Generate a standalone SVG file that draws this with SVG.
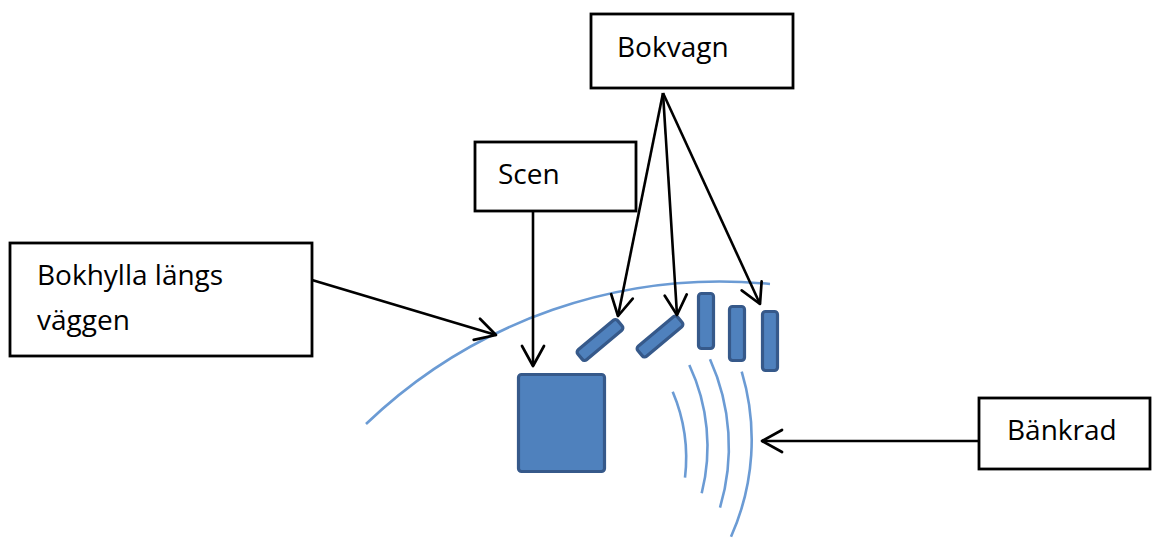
<svg xmlns="http://www.w3.org/2000/svg" width="1153" height="538" viewBox="0 0 1153 538">
<style>
.box{fill:#fff;stroke:#000;stroke-width:2.8}
.lbl{font-family:"Open Sans","Liberation Sans",sans-serif;font-size:28px;fill:#000}
.con{stroke:#000;stroke-width:2.6;fill:none;marker-end:url(#ah)}
.wall{stroke:#6b9bd4;stroke-width:2.6;fill:none}
.obj{fill:#4f81bd;stroke:#36598a;stroke-width:3.2}
</style>
<defs>
<marker id="ah" markerUnits="userSpaceOnUse" viewBox="-23 -13 25 26" markerWidth="25" markerHeight="26" refX="0" refY="0" orient="auto">
<path d="M-20,-11 L0,0 L-20,11" fill="none" stroke="#000" stroke-width="2.7" stroke-linejoin="round" stroke-linecap="round"/>
</marker>
</defs>
<rect width="1153" height="538" fill="#fff"/>
<g id="scene">
<path class="wall" d="M366,424 A512,512 0 0 1 770,284"/>
<path class="wall" d="M672.7,391.7 A170,170 0 0 1 685,477.7"/>
<path class="wall" d="M689.3,365 A192,192 0 0 1 701.7,493.3"/>
<path class="wall" d="M710,359.3 A213,213 0 0 1 720,507.7"/>
<path class="wall" d="M741.7,371.7 A237,237 0 0 1 731,536.7"/>
<rect class="obj" x="518.5" y="374.5" width="86" height="97" rx="3"/>
<rect class="obj" x="574" y="333.5" width="52" height="13" rx="3" transform="rotate(-40 600 340)"/>
<rect class="obj" x="634" y="330" width="52" height="13" rx="3" transform="rotate(-40 660 336.5)"/>
<rect class="obj" x="698.5" y="293.5" width="15" height="55" rx="3"/>
<rect class="obj" x="729.5" y="306.5" width="15" height="54" rx="3"/>
<rect class="obj" x="762.5" y="311.5" width="15" height="59" rx="3"/>
</g>
<g id="connectors">
<line class="con" x1="312" y1="280" x2="496" y2="335"/>
<line class="con" x1="533" y1="212" x2="533" y2="366"/>
<line class="con" x1="663" y1="93" x2="618" y2="316"/>
<line class="con" x1="663" y1="93" x2="677" y2="315"/>
<line class="con" x1="663" y1="93" x2="760" y2="304"/>
<line class="con" x1="979" y1="441" x2="762" y2="441"/>
</g>
<g id="bokvagn">
<rect class="box" x="591" y="14" width="202" height="74"/>
<text class="lbl" x="617" y="57">Bokvagn</text>
</g>
<g id="scen">
<rect class="box" x="475" y="142" width="161" height="69"/>
<text class="lbl" x="498" y="184">Scen</text>
</g>
<g id="bokhylla">
<rect class="box" x="10" y="243" width="302" height="113"/>
<text class="lbl" x="37" y="285">Bokhylla längs</text>
<text class="lbl" x="37" y="330">väggen</text>
</g>
<g id="bankrad">
<rect class="box" x="979" y="398" width="171" height="71"/>
<text class="lbl" x="1007" y="440">Bänkrad</text>
</g>
</svg>
